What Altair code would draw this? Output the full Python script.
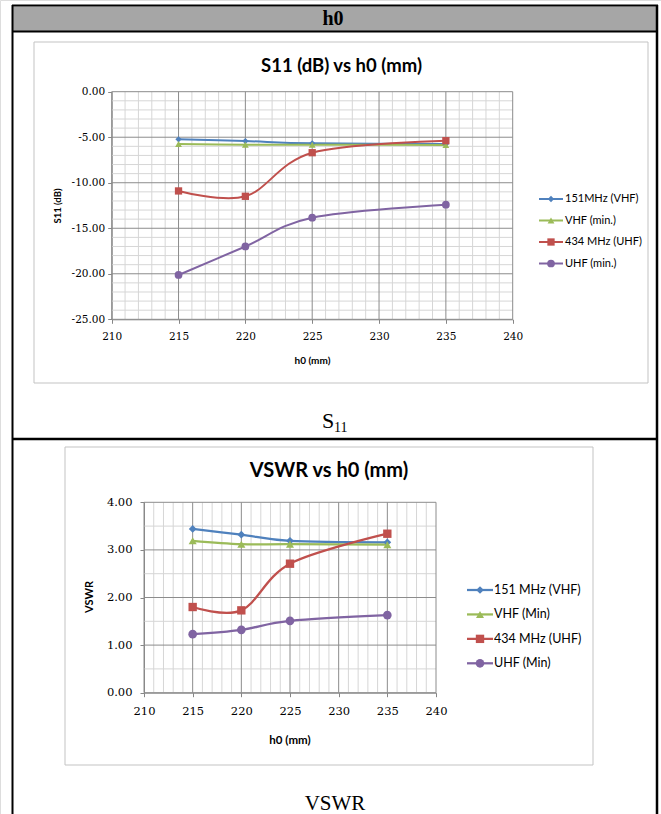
import altair as alt
import pandas as pd

# ---------------- data ----------------
h0_mm = [215, 220, 225, 235]

s11_names = ["151MHz (VHF)", "VHF (min.)", "434 MHz (UHF)", "UHF (min.)"]
s11_151 = [-5.23, -5.42, -5.67, -5.75]
s11_vhf_min = [-5.74, -5.82, -5.82, -5.85]
s11_434 = [-10.90, -11.49, -6.70, -5.38]
s11_uhf_min = [-20.13, -17.00, -13.84, -12.41]

vswr_names = ["151 MHz (VHF)", "VHF (Min)", "434 MHz (UHF)", "UHF (Min)"]
vswr_151 = [3.44, 3.32, 3.19, 3.16]
vswr_vhf_min = [3.19, 3.12, 3.12, 3.11]
vswr_434 = [1.80, 1.73, 2.71, 3.34]
vswr_uhf_min = [1.23, 1.32, 1.51, 1.63]

x_major = [210, 215, 220, 225, 230, 235, 240]
x_minor = [v for v in range(211, 240) if v not in x_major]
s11_major = [0, -5, -10, -15, -20, -25]
s11_minor = [v for v in range(-24, 0) if v not in s11_major]
vswr_major = [0, 1, 2, 3, 4]
vswr_minor = [0.5, 1.5, 2.5, 3.5]

# ---------------- styles ----------------
COLORS = ["#4F81BD", "#9BBB59", "#C0504D", "#8064A2"]
SHAPES = ["diamond", "triangle-up", "square", "circle"]
MAJOR = "#8c8c8c"
MINOR = "#d6d6d6"
AXISC = "#868686"
SANS = "Lato"
SERIF_LBL = "DejaVu Serif"
TIMES = "Liberation Serif"

W, H = 661, 814
dummy = pd.DataFrame({"a": [0]})


def long_df(names, cols):
    rows = []
    for k, (name, vals) in enumerate(zip(names, cols)):
        for x, v in zip(h0_mm, vals):
            rows.append({"h0": x, "value": v, "series": name, "k": k})
    return pd.DataFrame(rows)


def neg_fmt():
    return "datum.value < 0 ? '-' + format(-datum.value, '.2f') : format(datum.value, '.2f')"


def plot_panel(df, names, xr, ydom, yr, ymaj, ymin, sizes, lab_size, ypad, xpad, lw):
    xs = alt.Scale(domain=[210, 240], range=xr, nice=False, zero=False)
    ys = alt.Scale(domain=ydom, range=yr, nice=False, zero=False)
    cs = alt.Scale(domain=names, range=COLORS)
    ss = alt.Scale(domain=names, range=SHAPES)
    zs = alt.Scale(domain=names, range=sizes)
    ylo, yhi = ydom

    def xaxis():
        return alt.Axis(orient="bottom", offset=yr[0] - H, values=x_major, format="d", grid=False,
                        domainColor=AXISC, tickColor=AXISC, tickSize=4, labelFont=SERIF_LBL,
                        labelFontSize=lab_size, labelColor="#000", labelPadding=xpad, labelFlush=False,
                        labelOverlap=False, title=None)

    def yaxis():
        return alt.Axis(orient="left", offset=-xr[0], values=ymaj, labelExpr=neg_fmt(), grid=False,
                        domainColor=AXISC, tickColor=AXISC, tickSize=4, labelFont=SERIF_LBL,
                        labelFontSize=lab_size, labelColor="#000", labelPadding=ypad, labelFlush=False,
                        labelOverlap=False, title=None)

    def vgrid(vals, color):
        return alt.Chart(pd.DataFrame({"v": vals})).mark_rule(color=color, strokeWidth=1).encode(
            x=alt.X("v:Q", scale=xs, axis=xaxis(), title=None),
            y=alt.YDatum(ylo, scale=ys, axis=yaxis(), type="quantitative", title=None),
            y2=alt.Y2Datum(yhi),
        )

    def hgrid(vals, color):
        return alt.Chart(pd.DataFrame({"v": vals})).mark_rule(color=color, strokeWidth=1).encode(
            y=alt.Y("v:Q", scale=ys, axis=yaxis(), title=None),
            x=alt.XDatum(210, scale=xs, axis=xaxis(), type="quantitative", title=None),
            x2=alt.X2Datum(240),
        )

    lines = alt.Chart(df).mark_line(interpolate="cardinal", strokeWidth=lw).encode(
        x=alt.X("h0:Q", scale=xs, axis=xaxis(), title=None),
        y=alt.Y("value:Q", scale=ys, axis=yaxis(), title=None),
        color=alt.Color("series:N", scale=cs, legend=None),
        order=alt.Order("h0:Q"),
    )
    pts = alt.Chart(df).mark_point(filled=True, opacity=1).encode(
        x=alt.X("h0:Q", scale=xs, axis=xaxis(), title=None),
        y=alt.Y("value:Q", scale=ys, axis=yaxis(), title=None),
        color=alt.Color("series:N", scale=cs, legend=None),
        shape=alt.Shape("series:N", scale=ss, legend=None),
        size=alt.Size("series:N", scale=zs, legend=None),
    )
    return alt.layer(vgrid(x_minor, MINOR), hgrid(ymin, MINOR),
                     vgrid(x_major, MAJOR), hgrid(ymaj, MAJOR), lines, pts)


def legend_panel(names, xl, xm, xt, yr, sizes, fsize, lw):
    ldf = pd.DataFrame({"series": names})
    ys = alt.Scale(type="point", domain=names, range=yr, padding=0)
    y = alt.Y("series:N", scale=ys, axis=None)
    cs = alt.Scale(domain=names, range=COLORS)
    ss = alt.Scale(domain=names, range=SHAPES)
    zs = alt.Scale(domain=names, range=sizes)
    rule = alt.Chart(ldf).mark_rule(strokeWidth=lw).encode(
        x=alt.value(xl[0]), x2=alt.value(xl[1]), y=y,
        color=alt.Color("series:N", scale=cs, legend=None))
    pts = alt.Chart(ldf).mark_point(filled=True, opacity=1).encode(
        x=alt.value(xm), y=y,
        color=alt.Color("series:N", scale=cs, legend=None),
        shape=alt.Shape("series:N", scale=ss, legend=None),
        size=alt.Size("series:N", scale=zs, legend=None))
    txt = alt.Chart(ldf).mark_text(align="left", baseline="middle", font=SANS, fontSize=fsize,
                                   color="#000").encode(x=alt.value(xt), y=y, text="series:N")
    return alt.layer(rule, pts, txt)


def text_mark(txt, x, y, size, font, weight="normal", angle=0, align="center", baseline="middle"):
    return alt.Chart(dummy).mark_text(text=txt, font=font, fontSize=size, fontWeight=weight, angle=angle,
                                      align=align, baseline=baseline, color="#000").encode(
        x=alt.value(x), y=alt.value(y))


def box(x1, y1, x2, y2, stroke, fill, sw, fo=1.0):
    return alt.Chart(dummy).mark_rect(stroke=stroke, fill=fill, strokeWidth=sw, fillOpacity=fo).encode(
        x=alt.value(x1), x2=alt.value(x2), y=alt.value(y1), y2=alt.value(y2))


def hline(x1, x2, y, sw=2, color="#000"):
    return alt.Chart(dummy).mark_rule(color=color, strokeWidth=sw).encode(
        x=alt.value(x1), x2=alt.value(x2), y=alt.value(y))


def vline(x, y1, y2, sw=2, color="#000"):
    return alt.Chart(dummy).mark_rule(color=color, strokeWidth=sw).encode(
        x=alt.value(x), y=alt.value(y1), y2=alt.value(y2))


s11_df = long_df(s11_names, [s11_151, s11_vhf_min, s11_434, s11_uhf_min])
vswr_df = long_df(vswr_names, [vswr_151, vswr_vhf_min, vswr_434, vswr_uhf_min])

s11_sizes = [40, 60, 55, 55]
vswr_sizes = [60, 75, 85, 80]

decor = [
    box(13, 6.5, 657, 31, "#a6a6a6", "#a6a6a6", 0),
    box(34, 42, 648, 383, "#c3c3c3", "white", 1, 0),
    box(65, 447, 593, 765, "#c3c3c3", "white", 1, 0),
    hline(12, 658, 5.5, 2),
    hline(12, 658, 31.5, 2),
    hline(12, 658, 439, 2.5),
    vline(12.5, 5, H, 2),
    vline(657, 5, H, 2.5),
]

s11_panel = plot_panel(s11_df, s11_names, [111.7, 512.7], [-25, 0], [319.3, 91.7],
                       s11_major, s11_minor, s11_sizes, 10.5, 3, 8, 2)
vswr_panel = plot_panel(vswr_df, vswr_names, [144, 436], [0, 4], [692.7, 502.3],
                        vswr_major, vswr_minor, vswr_sizes, 11.5, 8, 9, 2.25)

s11_leg = legend_panel(s11_names, (539, 563), 551, 565, [199, 263.5], s11_sizes, 11, 2)
vswr_leg = legend_panel(vswr_names, (467, 493), 480, 494, [590, 663.3], vswr_sizes, 12.5, 2.25)

texts = [
    text_mark("h0", 333, 19, 20, TIMES, weight="bold"),
    text_mark("S11 (dB) vs h0 (mm)", 341.5, 66, 18.5, SANS, weight="bold"),
    text_mark("S11 (dB)", 57.5, 206, 9.5, SANS, weight="bold", angle=270),
    text_mark("h0 (mm)", 312.5, 361, 10, SANS, weight="bold"),
    text_mark("S", 322, 428, 22, TIMES, align="left", baseline="alphabetic"),
    text_mark("11", 334, 432, 14, TIMES, align="left", baseline="alphabetic"),
    text_mark("VSWR vs h0 (mm)", 329, 471, 20, SANS, weight="bold"),
    text_mark("VSWR", 90, 597, 11, SANS, weight="bold", angle=270),
    text_mark("h0 (mm)", 290, 741, 11.5, SANS, weight="bold"),
    text_mark("VSWR", 335, 810, 21, TIMES, baseline="alphabetic"),
]

chart = alt.layer(*decor, s11_panel, s11_leg, vswr_panel, vswr_leg, *texts).resolve_scale(
    x="independent", y="independent", color="independent", shape="independent", size="independent"
).properties(
    width=W, height=H, autosize=alt.AutoSizeParams(type="none"), padding=0
).configure_view(stroke=None).configure(background="white")

chart.save("out.html", embed_options={"renderer": "svg", "actions": False})
